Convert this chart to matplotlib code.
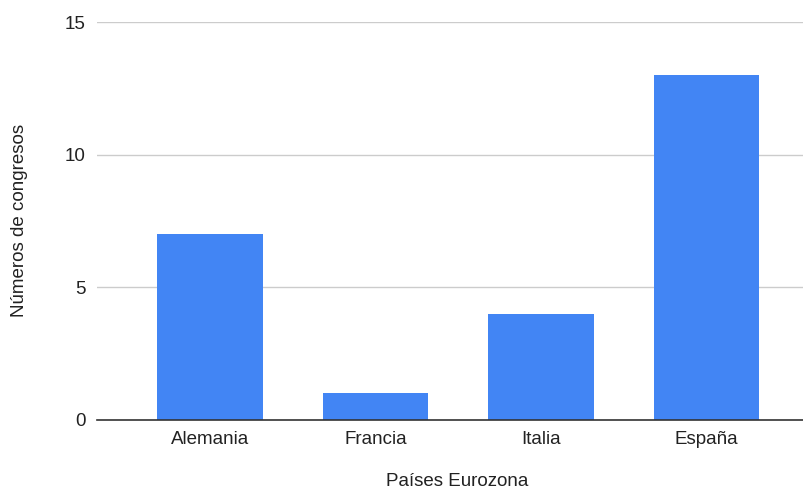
import matplotlib
matplotlib.use("Agg")
import matplotlib.pyplot as plt

categories = ["Alemania", "Francia", "Italia", "España"]
values = [7, 1, 4, 13]
yticks = [0, 5, 10, 15]

plt.rcParams['font.family'] = ['Liberation Sans', 'DejaVu Sans']

fig = plt.figure(figsize=(8.04, 4.9), dpi=100)
ax = fig.add_axes([97/804, 1 - 420/490, 707/804, 398/490])

x = list(range(len(categories)))
ax.bar(x, values, width=0.64, color="#4285F4", zorder=3)

ax.set_xlim(-0.683, 3.589)
ax.set_ylim(0, 15)
ax.set_yticks(yticks)
ax.set_xticks(x)
ax.set_xticklabels(categories)
ax.yaxis.grid(True, color="#cccccc", linewidth=1, zorder=0)
ax.set_axisbelow(True)
for s in ["top", "right", "left"]:
    ax.spines[s].set_visible(False)
ax.spines["bottom"].set_color("#333333")
ax.spines["bottom"].set_linewidth(1.2)
ax.spines["bottom"].set_zorder(4)
ax.tick_params(axis="both", length=0, labelsize=13.5, colors="#222222")
ax.tick_params(axis="y", pad=8)
ax.tick_params(axis="x", pad=8)
ax.set_xlabel("Países Eurozona", fontsize=13.5, color="#222222", va="center")
ax.set_ylabel("Números de congresos", fontsize=13.5, color="#222222", va="center")
ax.xaxis.set_label_coords((457 - 97) / 707, (420 - 482) / 398)
ax.yaxis.set_label_coords((20 - 97) / 707, (420 - 220) / 398)

fig.savefig("out.png", dpi=100)
